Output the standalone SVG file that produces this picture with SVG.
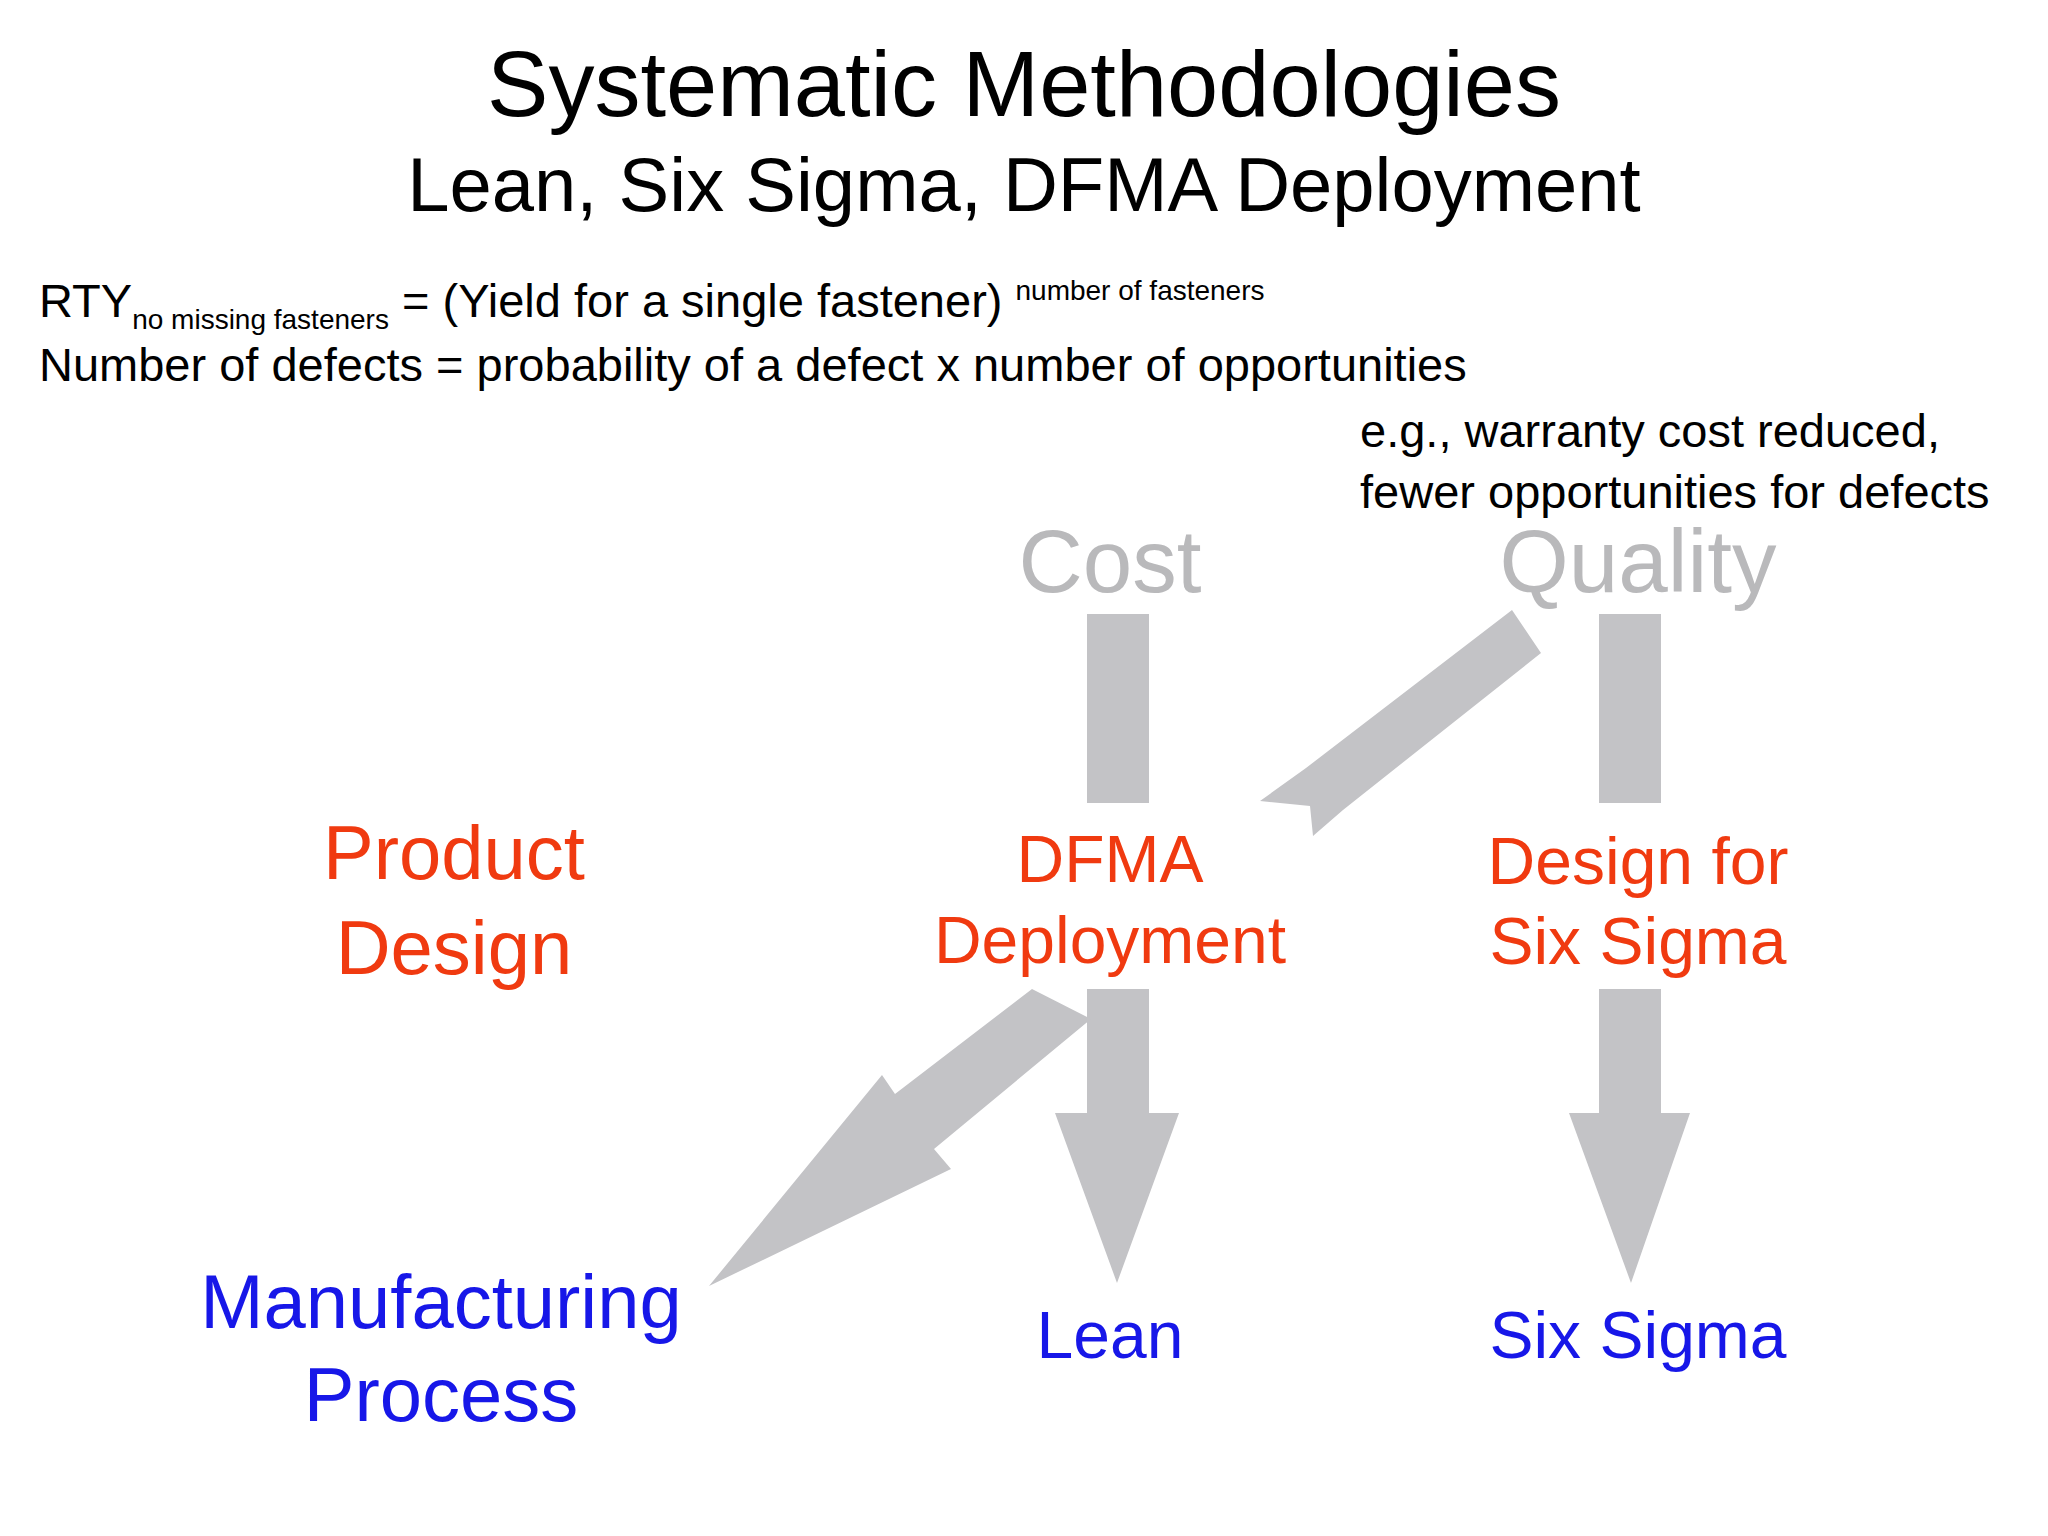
<svg xmlns="http://www.w3.org/2000/svg" width="2048" height="1536" viewBox="0 0 2048 1536">
<style>
text{font-family:"Liberation Sans",Arial,sans-serif;fill:#000}
.c{text-anchor:middle}
.g{fill:#b9b9bb;font-size:89px}
.r{fill:#f03a10;font-size:66px}
.rb{fill:#f03a10;font-size:76px}
.b{fill:#1717e8}
.eq{font-size:47px}
.sm{font-size:28px}
.arr{fill:#c3c3c6}
</style>
<rect width="2048" height="1536" fill="#fff"/>
<g id="title">
<text class="c" x="1024" y="116" font-size="92">Systematic Methodologies</text>
<text class="c" x="1024" y="211" font-size="76">Lean, Six Sigma, DFMA Deployment</text>
</g>
<g id="formulas">
<text class="eq" x="39" y="317">RTY<tspan class="sm" dy="12">no missing fasteners</tspan><tspan dy="-12"> = (Yield for a single fastener) </tspan><tspan class="sm" dy="-17">number of fasteners</tspan></text>
<text class="eq" x="39" y="381">Number of defects = probability of a defect x number of opportunities</text>
<text class="eq" x="1360" y="447">e.g., warranty cost reduced,</text>
<text class="eq" x="1360" y="508">fewer opportunities for defects</text>
</g>
<g id="cost"><text class="c g" x="1110" y="592">Cost</text></g>
<g id="quality"><text class="c g" x="1638" y="592">Quality</text></g>
<g id="product-design">
<text class="c rb" x="454" y="879">Product</text>
<text class="c rb" x="454" y="974">Design</text>
</g>
<g id="dfma">
<text class="c r" x="1110" y="882">DFMA</text>
<text class="c r" x="1110" y="963">Deployment</text>
</g>
<g id="dfss">
<text class="c r" x="1638" y="884">Design for</text>
<text class="c r" x="1638" y="964">Six Sigma</text>
</g>
<g id="manufacturing">
<text class="c b" x="441" y="1328" font-size="76">Manufacturing</text>
<text class="c b" x="441" y="1421" font-size="76">Process</text>
</g>
<g id="lean"><text class="c b" x="1110" y="1358" font-size="66">Lean</text></g>
<g id="six-sigma"><text class="c b" x="1638" y="1358" font-size="66">Six Sigma</text></g>
<g id="connectors">
<rect class="arr" x="1087" y="614" width="62" height="189"/>
<rect class="arr" x="1599" y="614" width="62" height="189"/>
<polygon class="arr" points="1512,610 1541,653 1343,810 1313,836 1310,806 1260,801 1306,768"/>
<polygon class="arr" points="1087,989 1149,989 1149,1113 1179,1113 1117,1283 1055,1113 1087,1113"/>
<polygon class="arr" points="1599,989 1661,989 1661,1113 1690,1113 1631,1283 1569,1113 1599,1113"/>
<polygon class="arr" points="1032,989 1091,1019 934,1149 951,1169 709,1286 882,1075 895,1094"/>
</g>
</svg>
